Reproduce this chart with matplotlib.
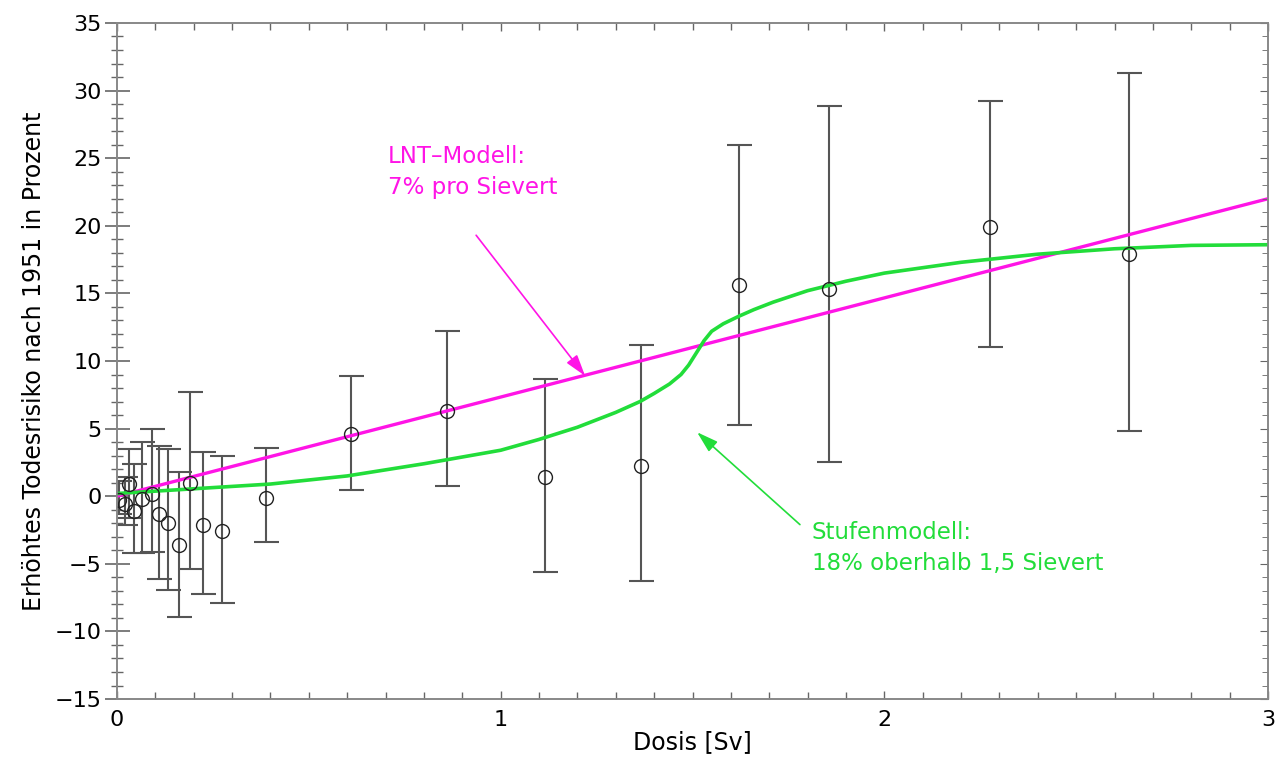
import matplotlib
matplotlib.use("Agg")
import matplotlib.pyplot as plt
from matplotlib.ticker import MultipleLocator

# ---- data ----
dose = [0.005, 0.02, 0.03, 0.045, 0.065, 0.09, 0.11, 0.133, 0.162, 0.19, 0.224, 0.273,
        0.388, 0.61, 0.86, 1.115, 1.367, 1.62, 1.856, 2.275, 2.638]
risk = [-0.3, -0.6, 0.9, -1.1, -0.2, 0.2, -1.3, -2.0, -3.6, 1.0, -2.1, -2.6,
        -0.1, 4.6, 6.3, 1.4, 2.2, 15.6, 15.35, 19.9, 17.9]
err_top = [1.1, 1.4, 3.5, 2.4, 4.0, 5.0, 3.7, 3.5, 1.8, 7.7, 3.3, 3.0,
           3.6, 8.9, 12.2, 8.65, 11.2, 26.0, 28.85, 29.2, 31.3]
err_bot = [-1.3, -2.1, -1.6, -4.2, -4.2, -4.1, -6.1, -6.9, -8.9, -5.4, -7.2, -7.9,
           -3.4, 0.44, 0.74, -5.6, -6.3, 5.3, 2.54, 11.05, 4.8]

lnt_x = [0.0, 3.0]
lnt_y = [0.0, 22.0]

step_x = [0.0, 0.2, 0.4, 0.6, 0.8, 1.0, 1.1, 1.2, 1.3, 1.363, 1.40, 1.44, 1.47, 1.49,
          1.51, 1.53, 1.55, 1.58, 1.62, 1.66, 1.71, 1.8, 1.9, 2.0, 2.2, 2.4, 2.6, 2.8, 3.0]
step_y = [0.2, 0.55, 0.9, 1.5, 2.4, 3.4, 4.2, 5.1, 6.2, 7.0, 7.6, 8.3, 9.0, 9.7,
          10.6, 11.5, 12.2, 12.75, 13.3, 13.8, 14.35, 15.2, 15.9, 16.5, 17.3, 17.9, 18.3, 18.55, 18.6]

xticks = [0, 1, 2, 3]
yticks = [-15, -10, -5, 0, 5, 10, 15, 20, 25, 30, 35]

MAGENTA = "#ff14e6"
GREEN = "#22dd3a"

plt.rcParams['font.family'] = ['DejaVu Sans']
fig = plt.figure(figsize=(12.79, 7.58), dpi=100)
ax = fig.add_axes([0.0915, 0.0778, 0.8999, 0.8919])

yerr_low = [r - b for r, b in zip(risk, err_bot)]
yerr_high = [t - r for r, t in zip(risk, err_top)]
ax.errorbar(dose, risk, yerr=[yerr_low, yerr_high], fmt='none', ecolor='#555555',
            elinewidth=1.5, capsize=9, capthick=1.5, zorder=2)
ax.plot(lnt_x, lnt_y, color=MAGENTA, lw=2.4, zorder=3)
ax.plot(step_x, step_y, color=GREEN, lw=2.6, zorder=3)
ax.plot(dose, risk, 'o', mfc='none', mec='#222222', ms=10, mew=1.0, zorder=4)

ax.text(0.706, 26.0, "LNT\u2013Modell:\n7% pro Sievert", color=MAGENTA, fontsize=16.5,
        va='top', ha='left', linespacing=1.45)
ax.annotate("", xy=(1.22, 8.9), xytext=(0.936, 19.3),
            arrowprops=dict(arrowstyle='-|>,head_length=1.3,head_width=0.4', color=MAGENTA,
                            lw=1.2, shrinkA=0, shrinkB=0))
ax.text(1.811, -1.8, "Stufenmodell:\n18% oberhalb 1,5 Sievert", color=GREEN, fontsize=16.5,
        va='top', ha='left', linespacing=1.45)
ax.annotate("", xy=(1.512, 4.73), xytext=(1.78, -2.1),
            arrowprops=dict(arrowstyle='-|>,head_length=1.3,head_width=0.4', color=GREEN,
                            lw=1.2, shrinkA=0, shrinkB=0))

ax.set_xlim(0, 3)
ax.set_ylim(-15, 35)
ax.set_xticks(xticks)
ax.set_yticks(yticks)
ax.xaxis.set_minor_locator(MultipleLocator(0.1))
ax.yaxis.set_minor_locator(MultipleLocator(1))
ax.tick_params(axis='both', which='both', colors='#666666', labelcolor='black', labelsize=16)
ax.tick_params(axis='y', which='major', direction='inout', length=18, width=1.2, left=True, right=False, pad=2)
ax.tick_params(axis='y', which='minor', direction='inout', length=9, width=1.0, left=True, right=False)
ax.tick_params(axis='x', which='major', direction='in', length=6, width=1.0, top=True, bottom=True, pad=8)
ax.tick_params(axis='x', which='minor', direction='in', length=5, width=1.0, top=True, bottom=True)

# right-side inward ticks
ax2 = ax.twinx()
ax2.set_ylim(-15, 35)
ax2.set_yticks(yticks)
ax2.yaxis.set_minor_locator(MultipleLocator(1))
ax2.tick_params(axis='y', which='both', direction='in', colors='#666666', labelright=False)
ax2.tick_params(axis='y', which='major', length=6)
ax2.tick_params(axis='y', which='minor', length=4)

for a in (ax, ax2):
    for s in a.spines.values():
        s.set_color('#888888')
        s.set_linewidth(1.2)

ax.set_xlabel("Dosis [Sv]", fontsize=17, labelpad=0)
ax.set_ylabel("Erhöhtes Todesrisiko nach 1951 in Prozent", fontsize=17, labelpad=6)

fig.savefig("out.png", dpi=100)
